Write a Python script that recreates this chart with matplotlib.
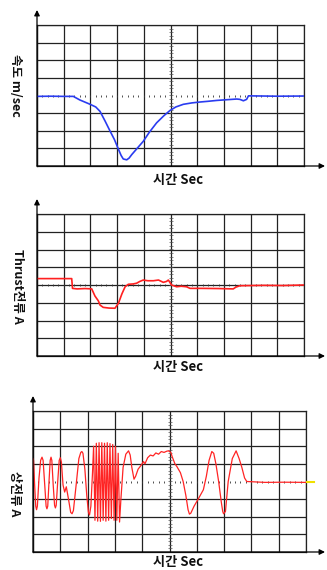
import numpy as np
import matplotlib
matplotlib.use("Agg")
import matplotlib.pyplot as plt

plt.rcParams['font.family'] = ['Noto Sans CJK KR', 'DejaVu Sans']

# ---------------- data (grid divisions: x 0..10, y -4..4) ----------------
speed_x = [0, 0.5, 1.0, 1.36, 1.6, 1.99, 2.2, 2.36, 2.55, 2.73, 2.9, 3.05, 3.15, 3.23, 3.36, 3.45, 3.55,
           3.75, 3.98, 4.2, 4.48, 4.75, 4.98, 5.2, 5.48, 5.8, 6.1, 6.4, 6.73, 7.1, 7.48, 7.6, 7.73, 7.85, 7.92, 8.5, 9.0, 10.0]
speed_y = [-0.05, -0.04, -0.05, -0.05, -0.25, -0.5, -0.65, -0.9, -1.45, -2.0, -2.5, -3.05, -3.4, -3.6, -3.65, -3.55, -3.35,
           -3.0, -2.6, -2.1, -1.55, -1.15, -0.85, -0.65, -0.5, -0.42, -0.37, -0.33, -0.28, -0.24, -0.2, -0.22, -0.3, -0.22, -0.02, -0.03, -0.04, -0.03]

thrust_x = [0, 0.6, 1.3, 1.33, 1.5, 1.8, 2.05, 2.17, 2.3, 2.36, 2.48, 2.7, 2.92, 3.05, 3.18, 3.3, 3.42, 3.6, 3.73, 3.85,
            3.98, 4.15, 4.36, 4.55, 4.73, 4.85, 4.92, 5.04, 5.23, 5.4, 5.6, 5.73, 6.2, 6.8, 7.35, 7.45, 7.6, 8.5, 9.2, 10.0]
thrust_y = [0.36, 0.36, 0.36, -0.19, -0.22, -0.2, -0.22, -0.62, -0.9, -1.13, -1.26, -1.3, -1.31, -1.03, -0.5, -0.1, 0.04, 0.06, 0.1, 0.2,
            0.28, 0.24, 0.24, 0.28, 0.15, 0.2, 0.28, 0.0, -0.1, -0.07, -0.1, -0.19, -0.19, -0.2, -0.22, -0.12, -0.04, -0.02, -0.03, 0.0]

phase_x = [0.00, 0.02, 0.06, 0.10, 0.13, 0.16, 0.22, 0.28, 0.33, 0.37, 0.43, 0.48, 0.51, 0.54, 0.59, 0.63, 0.66, 0.69,
           0.74, 0.79, 0.82, 0.85, 0.91, 0.96, 1.00, 1.04, 1.10, 1.16, 1.22, 1.30, 1.38, 1.43, 1.48, 1.58, 1.68, 1.75,
           1.79, 1.83, 1.90, 1.97, 2.03, 2.07, 2.12, 2.18,
           2.22, 2.27, 2.32, 2.37, 2.42, 2.47, 2.52, 2.57, 2.62, 2.67, 2.72, 2.77, 2.82, 2.87, 2.92, 2.97, 3.02, 3.07, 3.12, 3.17,
           3.22, 3.30, 3.40, 3.50, 3.56, 3.62, 3.70, 3.76, 3.85, 3.95, 4.05, 4.10, 4.20, 4.30, 4.40, 4.50, 4.60, 4.70, 4.80,
           4.90, 4.96, 5.05, 5.10, 5.20, 5.27, 5.40, 5.50, 5.60, 5.68, 5.73, 5.78, 5.90, 6.05, 6.24, 6.35, 6.45, 6.55, 6.62,
           6.70, 6.80, 6.90, 6.95, 6.98, 7.05, 7.15, 7.30, 7.44, 7.55, 7.65, 7.75, 7.83, 8.50, 9.20, 10.0]
phase_y = [1.30, 1.20, -0.20, -1.40, -1.60, -1.40, 0.20, 1.20, 1.38, 1.20, -0.20, -1.40, -1.55, -1.40, 0.10, 1.20, 1.38, 1.20,
           -0.20, -1.35, -1.50, -1.35, 0.10, 1.20, 1.35, 1.10, -0.20, -0.60, -0.30, -1.00, -1.75, -1.83, -1.65, -0.20, 1.30, 1.65,
           1.70, 1.60, 0.70, -0.80, -1.75, -1.90, -1.40, 0.50,
           2.00, -2.20, 2.17, -2.25, 2.20, -2.26, 2.20, -2.20, 2.17, -2.25, 2.20, -2.20, 2.15, -2.10, 2.10, -2.20, 2.00, -2.20, 1.60, -2.30,
           -1.00, 0.80, 1.55, 1.74, 1.50, 0.80, 0.13, 0.30, 0.70, 0.90, 1.13, 1.00, 1.35, 1.50, 1.45, 1.62, 1.55, 1.70, 1.65,
           1.72, 1.74, 1.65, 1.40, 1.00, 0.85, 0.50, 0.00, -0.80, -1.60, -1.85, -1.80, -1.40, -1.00, -0.47, 0.30, 1.20, 1.70, 1.60,
           1.00, 0.00, -1.20, -1.70, -1.83, -1.70, 0.00, 1.30, 1.74, 1.30, 0.80, 0.20, 0.00, -0.05, -0.04, -0.05]

ylabels = ["속도 m/sec", "Thrust전류 A", "상전류 A"]
xlabel = "시간 Sec"

W, H = 327, 570
fig = plt.figure(figsize=(W / 100, H / 100), dpi=100)
fig.patch.set_facecolor("white")

# pixel boxes: left, top, right, bottom
boxes = [(37, 25, 304, 166), (37, 214, 304, 356), (33, 411, 306, 552)]
series = [(speed_x, speed_y, "#2a3cf0", 1.2), (thrust_x, thrust_y, "#ff2020", 1.2), (phase_x, phase_y, "#ff2424", 0.9)]
zero_solid = [False, True, False]
xlab_y = [180, 367, 562]
ylab_pos = [(15, 85), (17, 286), (14, 494)]

gridc = "#222222"
for i, (box, (sx, sy, col, lw)) in enumerate(zip(boxes, series)):
    l, t, r, b = box
    ax = fig.add_axes([l / W, 1 - b / H, (r - l) / W, (b - t) / H])
    ax.set_xlim(0, 10)
    ax.set_ylim(-4, 4)
    ax.set_xticks(range(0, 11))
    yt = [v for v in range(-4, 5) if zero_solid[i] or v != 0]
    ax.set_yticks(yt)
    ax.tick_params(length=0, labelbottom=False, labelleft=False)
    ax.grid(True, color=gridc, lw=0.9)
    for sp in ax.spines.values():
        sp.set_color(gridc)
        sp.set_linewidth(0.9)
    # center minor ticks
    ym = np.arange(-4, 4.01, 0.2)
    ax.plot(np.full_like(ym, 5.0), ym, ls="none", marker="_", ms=2.2, mew=0.5, color="#555555", zorder=2)
    xm = np.arange(0, 10.01, 0.2)
    ax.plot(xm, np.zeros_like(xm), ls="none", marker="|", ms=1.8, mew=0.6, color="#333333", zorder=2)
    ax.plot(sx, sy, color=col, lw=lw, zorder=3)
    if i == 2:
        ax.plot([10.05, 10.3], [0, 0], color="#f0e000", lw=1.5, clip_on=False, zorder=3)
    # arrows
    ax.annotate("", xy=(0, 1 + 15 / (b - t)), xytext=(0, 0), xycoords="axes fraction",
                arrowprops=dict(arrowstyle="-|>", color="black", lw=0.9, mutation_scale=8, shrinkA=0, shrinkB=0),
                annotation_clip=False)
    ax.annotate("", xy=(1 + (325 - r) / (r - l), 0), xytext=(0, 0), xycoords="axes fraction",
                arrowprops=dict(arrowstyle="-|>", color="black", lw=0.9, mutation_scale=8, shrinkA=0, shrinkB=0),
                annotation_clip=False)
    fig.text(178 / W, 1 - xlab_y[i] / H, xlabel, ha="center", va="center", fontsize=9.5, fontweight="bold", color="#111111")
    px, py = ylab_pos[i]
    fig.text(px / W, 1 - py / H, ylabels[i], ha="center", va="center", rotation=-90, fontsize=9,
             fontweight="bold", color="#111111")

fig.savefig("out.png", dpi=100, facecolor="white")
